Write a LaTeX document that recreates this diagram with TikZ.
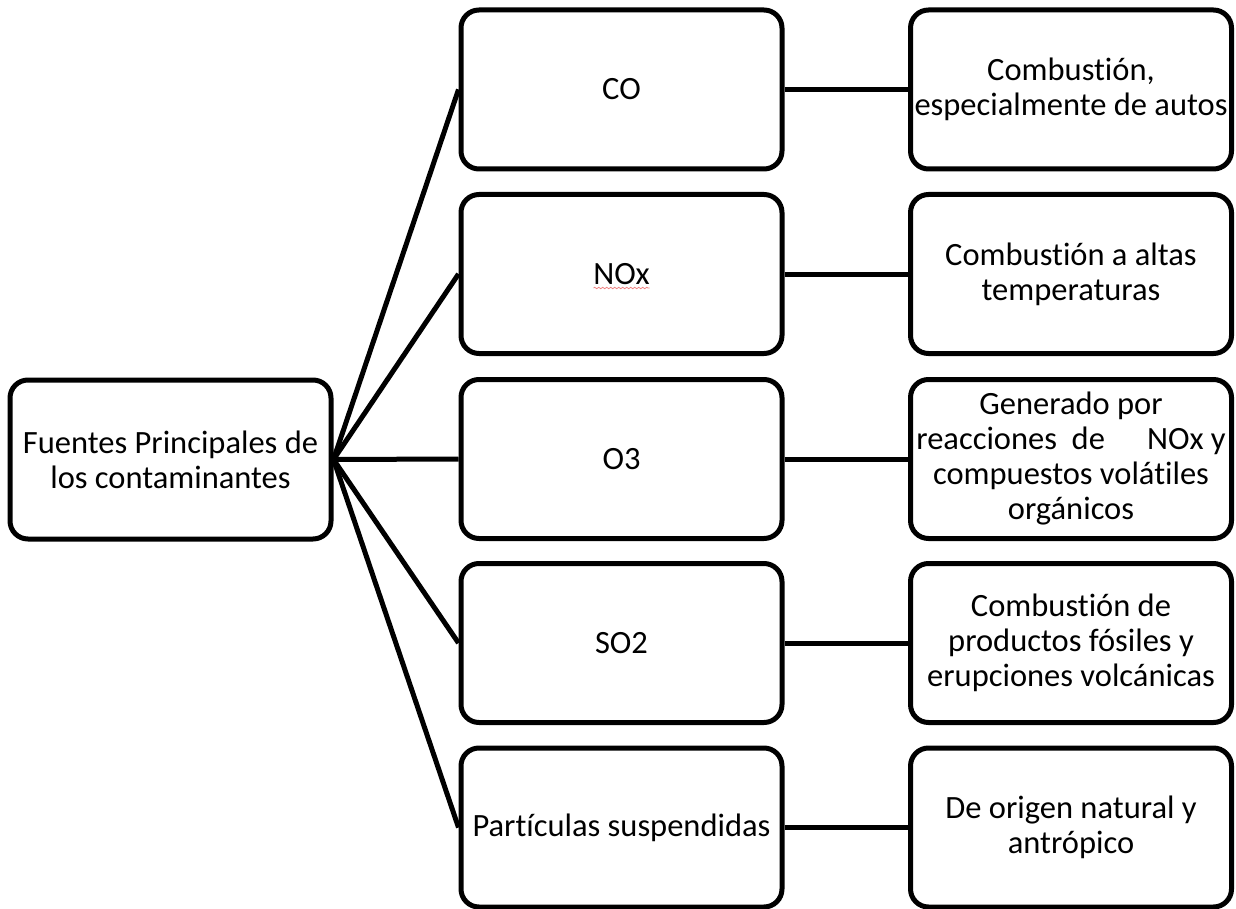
\documentclass[tikz,border=0pt]{standalone}
\usepackage{fontspec}
\setmainfont{Carlito}[Ligatures=NoCommon]
\usetikzlibrary{decorations.pathmorphing}
\definecolor{spellred}{HTML}{F08080}
\begin{document}
\begin{tikzpicture}[x=1pt,y=-1pt,
  box/.style={draw=black, line width=5pt, rounded corners=18pt, fill=white,
    minimum width=321pt, minimum height=159pt, inner sep=4pt, align=center,
    font=\fontsize{32.5}{35}\selectfont},
  link/.style={draw=black, line width=5pt}]
\useasboundingbox (0,0) rectangle (1236,909);

% root
\node[box] (root) at (170.5,459.5) {Fuentes Principales de\\los contaminantes};

% pollutants
\node[box] (co)  at (621.5,89.5)  {CO};
\node[box] (nox) at (621.5,274)   {NOx};
\node[box] (o3)  at (621.5,459)   {O3};
\node[box] (so2) at (621.5,643)   {SO2};
\node[box] (pm)  at (621.5,827.5) {Partículas suspendidas};

% sources
\node[box] (coR)  at (1071,89.5)  {Combustión,\\especialmente de autos};
\node[box] (noxR) at (1071,274)   {Combustión a altas\\temperaturas};
\node[box] (o3R)  at (1071,459)
  {Generado por\\reacciones\ \ de\hspace{1.3em}NOx y\\compuestos volátiles\\orgánicos};
\node[box] (so2R) at (1071,643)   {Combustión de\\productos fósiles y\\erupciones volcánicas};
\node[box] (pmR)  at (1071,827.5) {De origen natural y\\antrópico};

% spelling mark under NOx
\coordinate (u1) at ([xshift=-28pt,yshift=-14pt]nox.center);
\coordinate (u2) at ([xshift=28pt,yshift=-14pt]nox.center);
\draw[spellred, line width=0.8pt, decorate,
  decoration={snake, amplitude=0.7pt, segment length=4pt}] (u1) -- (u2);

% connectors
\foreach \n in {co,nox,o3,so2,pm} {
  \draw[link] (root.east) -- (\n.west);
  \draw[link] (\n.east) -- (\n R.west);
}
\end{tikzpicture}
\end{document}
